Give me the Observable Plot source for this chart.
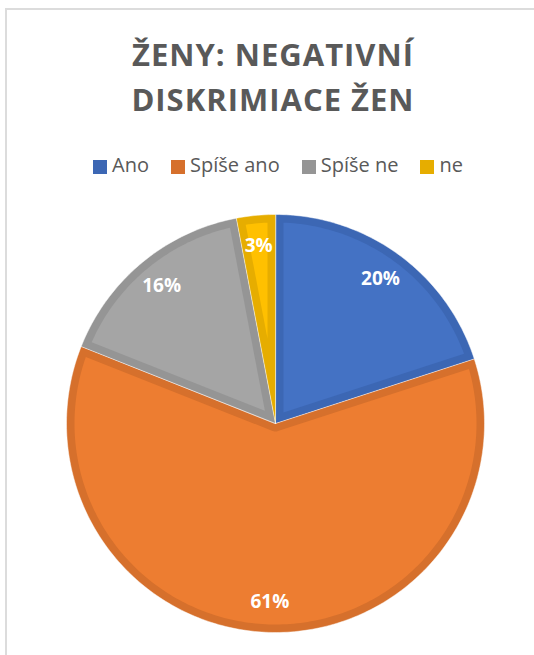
<!DOCTYPE html>
<html>
<head>
<meta charset="utf-8">
<script src="https://cdn.jsdelivr.net/npm/d3@7"></script>
<script src="https://cdn.jsdelivr.net/npm/@observablehq/plot@0.6"></script>
<style>
  html, body { margin: 0; padding: 0; background: #fff; }
  #wrap { position: relative; width: 534px; height: 655px; overflow: hidden; font-family: "Open Sans", sans-serif; }
  #frame { position: absolute; left: 5px; top: 8px; width: 700px; height: 800px; border: 2px solid #DCDCDC; box-sizing: border-box; }
  #title { position: absolute; left: 0; top: 32px; width: 546px; text-align: center; font-size: 31px; line-height: 45px; font-weight: 700; letter-spacing: 1px; color: #595959; }
  #legend { position: absolute; left: 0; top: 155px; width: 556px; display: flex; justify-content: center; font-size: 20px; line-height: 20px; color: #595959; }
  .item { display: flex; align-items: flex-start; margin: 0 11px; white-space: nowrap; }
  .sw { width: 14px; height: 14px; margin-top: 5px; margin-right: 5px; }
  #chart { position: absolute; left: 0; top: 190px; }
</style>
</head>
<body>
<div id="wrap">
  <div id="frame"></div>
  <div id="title"></div>
  <div id="legend"></div>
  <div id="chart"></div>
</div>
<script>
// ---- data ----
const titleLines = ["ŽENY: NEGATIVNÍ", "DISKRIMIACE ŽEN"];
const categories = ["Ano", "Spíše ano", "Spíše ne", "ne"];
const values = [20, 61, 16, 3];
const labels = ["20%", "61%", "16%", "3%"];
const fillColors = ["#4472C4", "#ED7D31", "#A5A5A5", "#FFC000"];
const borderColors = ["#3C67B4", "#D6702C", "#959595", "#E6AD00"];

// ---- title & legend ----
document.getElementById("title").innerHTML = titleLines.join("<br>");
const legend = document.getElementById("legend");
categories.forEach((c, i) => {
  const it = document.createElement("div");
  it.className = "item";
  const sw = document.createElement("div");
  sw.className = "sw";
  sw.style.background = borderColors[i];
  const tx = document.createElement("span");
  tx.textContent = c;
  it.appendChild(sw); it.appendChild(tx);
  legend.appendChild(it);
});

// ---- layout ----
const W = 534, H = 465;
const cx = 275, cy = 233, R = 209;
const d = 8 / R;           // border band width (unit radius)
const labelR = 0.855;

const pie = d3.pie().sort(null).value(v => v).startAngle(0).endAngle(2 * Math.PI);
const arcs = pie(values);

const pt = (a, r) => [r * Math.sin(a), -r * Math.cos(a)];
function arcPts(a0, a1, r) {
  const n = Math.max(2, Math.ceil(Math.abs(a1 - a0) / (Math.PI / 180)));
  const out = [];
  for (let k = 0; k <= n; k++) out.push(pt(a0 + (a1 - a0) * k / n, r));
  return out;
}

const outer = [], inner = [], labelData = [];
arcs.forEach((a, i) => {
  const a0 = a.startAngle, a1 = a.endAngle, th = a1 - a0;
  [[0, 0], ...arcPts(a0, a1, 1)].forEach(([x, y]) => outer.push({x, y, z: i, c: borderColors[i]}));
  const r = 1 - d;
  const p0 = a0 + Math.asin(d / r), p1 = a1 - Math.asin(d / r);
  let poly;
  if (th <= Math.PI) {
    const apex = pt((a0 + a1) / 2, d / Math.sin(th / 2));
    poly = [apex, ...arcPts(p0, p1, r)];
  } else {
    poly = [...arcPts(p0, p1, r), ...arcPts(a1 - Math.PI / 2, a0 + Math.PI / 2, d)];
  }
  poly.forEach(([x, y]) => inner.push({x, y, z: i, c: fillColors[i]}));
  const [lx, ly] = pt((a0 + a1) / 2, labelR);
  labelData.push({x: lx, y: ly, t: labels[i]});
});

const chart = Plot.plot({
  width: W, height: H, margin: 0,
  style: {background: "transparent"},
  x: {domain: [-cx / R, (W - cx) / R], range: [0, W], axis: null},
  y: {domain: [-cy / R, (H - cy) / R], range: [0, H], axis: null},
  color: {type: "identity"},
  marks: [
    Plot.line(outer, {x: "x", y: "y", z: "z", fill: "c", stroke: "#ffffff", strokeWidth: 0.8, strokeOpacity: 0.6, curve: "linear-closed"}),
    Plot.line(inner, {x: "x", y: "y", z: "z", fill: "c", stroke: "none", curve: "linear-closed"}),
    Plot.text(labelData, {x: "x", y: "y", text: "t", fill: "white", fontSize: 19, fontWeight: "bold", fontFamily: "Open Sans"})
  ]
});
document.getElementById("chart").appendChild(chart);
</script>
</body>
</html>
